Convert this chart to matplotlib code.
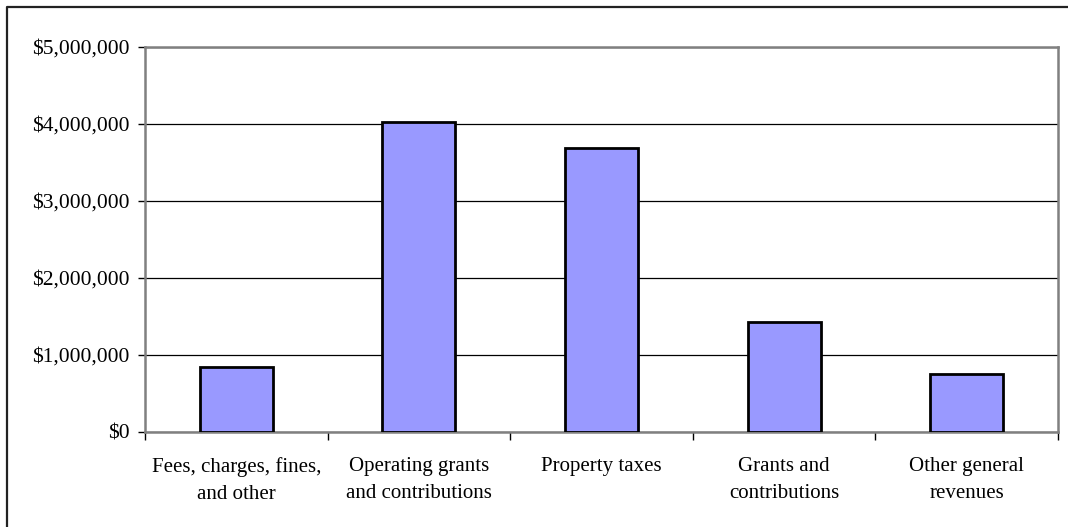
import matplotlib.pyplot as plt
from matplotlib.lines import Line2D
from matplotlib.ticker import FuncFormatter

## DATA
categories = ["Fees, charges, fines,\nand other",
              "Operating grants\nand contributions",
              "Property taxes",
              "Grants and\ncontributions",
              "Other general\nrevenues"]
revenues = [845_000, 4_030_000, 3_690_000, 1_430_000, 755_000]
y_ticks = [0, 1_000_000, 2_000_000, 3_000_000, 4_000_000, 5_000_000]

plt.rcParams['font.family'] = ['Liberation Serif', 'DejaVu Serif']

fig = plt.figure(figsize=(10.68, 5.27), dpi=100)
ax = fig.add_axes([145 / 1068, 1 - 432 / 527, 913 / 1068, 385 / 527])

x = list(range(len(categories)))
ax.bar(x, revenues, width=0.4, color="#9999FF", edgecolor="black", linewidth=2, zorder=3)

ax.set_xlim(-0.5, len(categories) - 0.5)
ax.set_ylim(0, 5_000_000)

# y axis
ax.set_yticks(y_ticks)
ax.yaxis.set_major_formatter(FuncFormatter(lambda v, p: f"${v:,.0f}"))
ax.tick_params(axis="y", direction="out", length=5, width=1, pad=6, labelsize=15.5, colors="black")
ax.yaxis.grid(True, color="black", linewidth=0.9, zorder=0)

# x axis: ticks at category boundaries, labels at centres
ax.set_xticks([i - 0.5 for i in range(len(categories) + 1)])
ax.set_xticklabels([])
ax.set_xticks(x, minor=True)
ax.set_xticklabels(categories, minor=True, fontsize=15, linespacing=1.6)
ax.tick_params(axis="x", which="major", direction="out", length=6, width=1, color="black")
ax.tick_params(axis="x", which="minor", length=0, pad=18)

for s in ax.spines.values():
    s.set_color("#808080")
    s.set_linewidth(1.8)

# outer chart border (only top and left fall inside the picture)
bx, by = 7 / 1068, 1 - 7 / 527
fig.add_artist(Line2D([bx, bx, 1], [0, by, by], transform=fig.transFigure,
                      color="#222222", linewidth=1.6))

fig.savefig("out.png", dpi=100)
